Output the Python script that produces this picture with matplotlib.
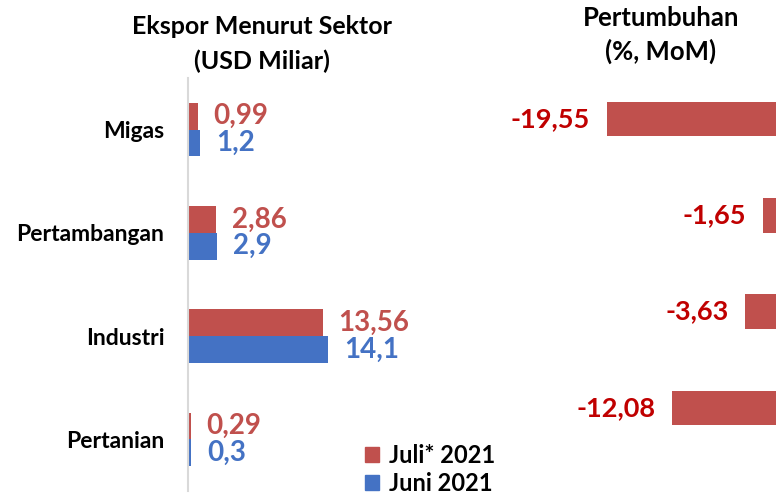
import numpy as np
import matplotlib.pyplot as plt
from matplotlib.patches import Patch

plt.rcParams["font.family"] = ["Lato", "DejaVu Sans"]
plt.rcParams["font.weight"] = "bold"

# Data
sektor = ["Migas", "Pertambangan", "Industri", "Pertanian"]
juli_2021 = [0.99, 2.86, 13.56, 0.29]
juni_2021 = [1.2, 2.9, 14.1, 0.3]
juli_label = ["0,99", "2,86", "13,56", "0,29"]
juni_label = ["1,2", "2,9", "14,1", "0,3"]
growth_mom = [-19.55, -1.65, -3.63, -12.08]
growth_label = ["-19,55", "-1,65", "-3,63", "-12,08"]

RED = "#C0504D"
BLUE = "#4472C4"
DARK_RED = "#C00000"

W, H = 776, 496
fig = plt.figure(figsize=(W / 100, H / 100), dpi=100)

def fig_rect(x0, y0, x1, y1):
    # pixel box (top-left origin) -> figure fraction
    return [x0 / W, 1 - y1 / H, (x1 - x0) / W, (y1 - y0) / H]

y = np.arange(len(sektor))

# Left panel: export by sector
ax1 = fig.add_axes(fig_rect(188, 78, 480, 491))
bh = 0.26
ax1.barh(y - bh / 2, juli_2021, height=bh, color=RED)
ax1.barh(y + bh / 2, juni_2021, height=bh, color=BLUE)
ax1.set_xlim(0, (480 - 188) / 9.93)
ax1.set_ylim(3.5, -0.5)
for i in range(len(sektor)):
    ax1.annotate(juli_label[i], xy=(juli_2021[i], y[i] - bh / 2), xytext=(11, 0),
                 textcoords="offset points", va="center", ha="left",
                 color=RED, fontsize=20, fontweight="bold")
    ax1.annotate(juni_label[i], xy=(juni_2021[i], y[i] + bh / 2), xytext=(12, 0),
                 textcoords="offset points", va="center", ha="left",
                 color=BLUE, fontsize=20, fontweight="bold")
ax1.set_yticks(y)
ax1.set_yticklabels(sektor, fontsize=16.5, fontweight="bold")
ax1.tick_params(axis="y", length=0, pad=17)
ax1.set_xticks([])
for s in ["top", "right", "bottom"]:
    ax1.spines[s].set_visible(False)
ax1.spines["left"].set_color("#D9D9D9")
ax1.spines["left"].set_linewidth(1.5)

# Right panel: growth MoM
ax2 = fig.add_axes(fig_rect(450, 71, 777, 456))
ax2.barh(y, growth_mom, height=0.36, color=RED)
ax2.set_xlim(-(777 - 450) / 8.70, 0)
ax2.set_ylim(3.5, -0.5)
for i in range(len(sektor)):
    ax2.annotate(growth_label[i], xy=(growth_mom[i], y[i]), xytext=(-12, 0),
                 textcoords="offset points", va="center", ha="right",
                 color=DARK_RED, fontsize=19.5, fontweight="bold")
ax2.axis("off")

# Titles
fig.text(262 / W, 1 - 26 / H, "Ekspor Menurut Sektor", ha="center", va="center",
         fontsize=18, fontweight="bold")
fig.text(262 / W, 1 - 61 / H, "(USD Miliar)", ha="center", va="center",
         fontsize=18, fontweight="bold")
fig.text(661 / W, 1 - 18 / H, "Pertumbuhan", ha="center", va="center",
         fontsize=18.5, fontweight="bold")
fig.text(661 / W, 1 - 51 / H, "(%, MoM)", ha="center", va="center",
         fontsize=18.5, fontweight="bold")

# Legend
handles = [Patch(color=RED, label="Juli* 2021"), Patch(color=BLUE, label="Juni 2021")]
fig.legend(handles=handles, loc="upper left", bbox_to_anchor=(365 / W, 1 - 444 / H),
           frameon=False, fontsize=17, handlelength=0.6, handleheight=0.6,
           handletextpad=0.4, labelspacing=0.2, borderpad=0, borderaxespad=0)

fig.savefig("out.png", dpi=100)
